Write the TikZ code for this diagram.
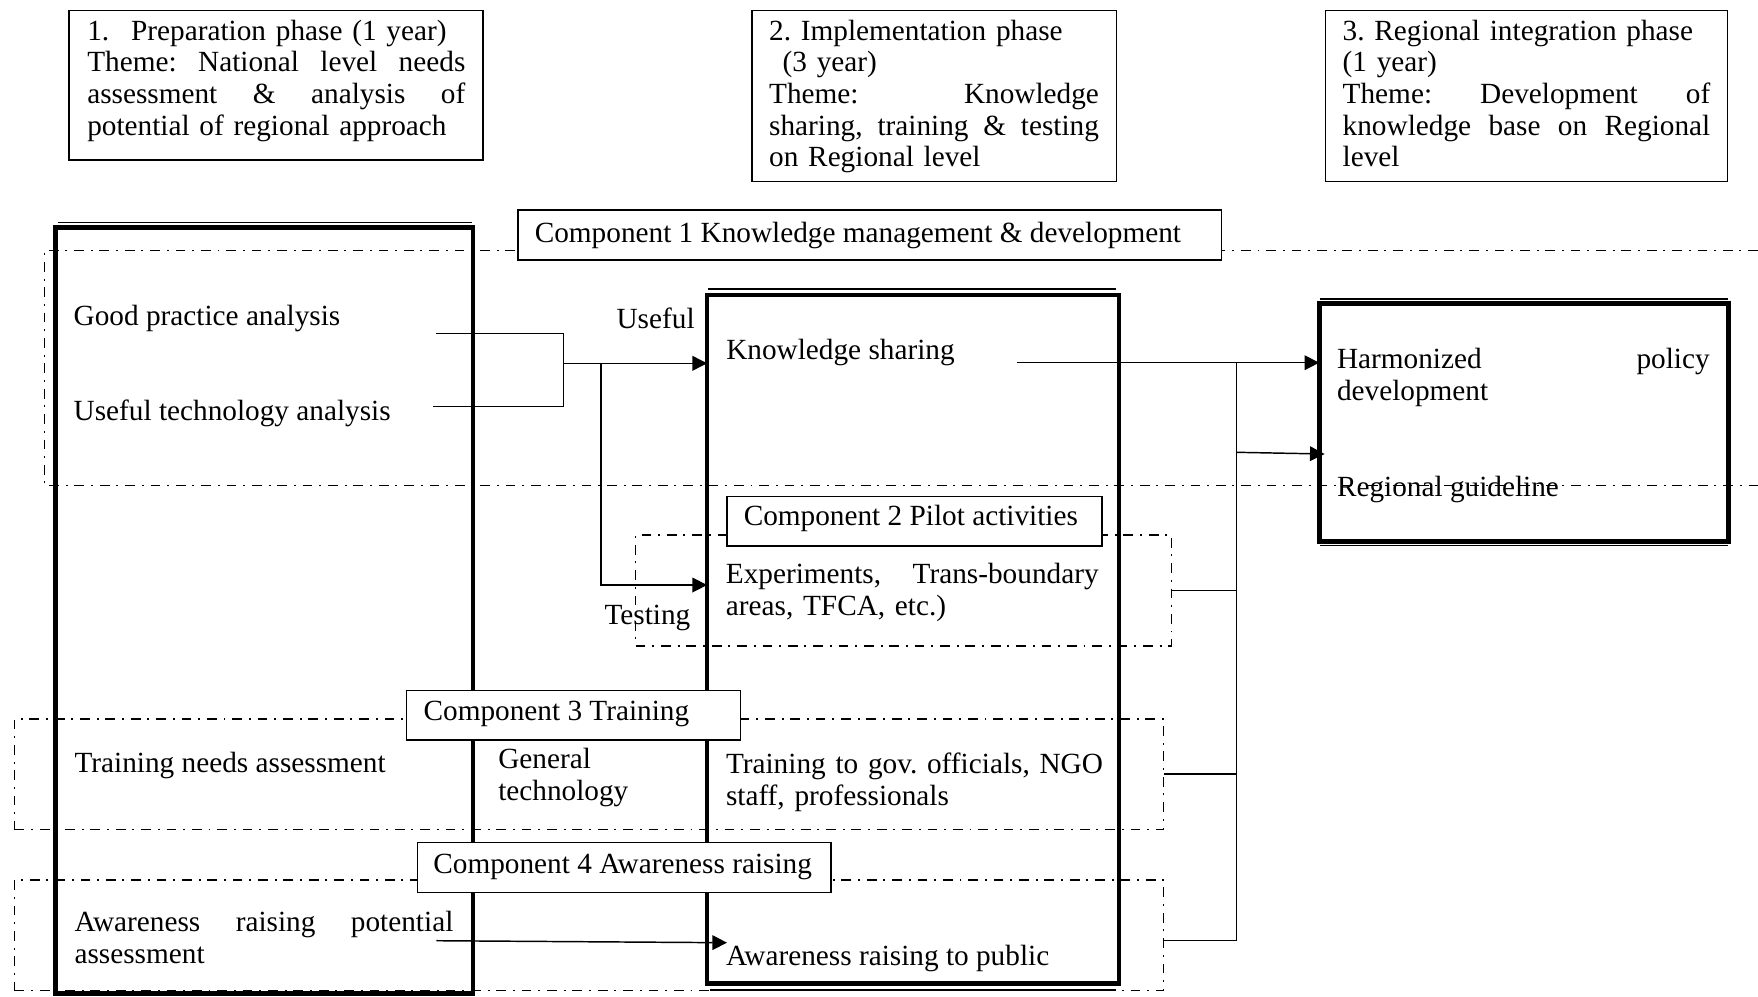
\documentclass[tikz,border=0pt]{standalone}
\usepackage{fontspec}
\setmainfont{Liberation Serif}
\usetikzlibrary{arrows.meta,fit}
\frenchspacing
\begin{document}
\begin{tikzpicture}[x=0.41pt,y=-0.41pt,
  every node/.style={font=\fontsize{12}{13}\selectfont\frenchspacing, inner sep=0pt, outer sep=0pt},
  txt/.style={anchor=base west, align=left, yshift=-0.7pt},
  thinbox/.style={draw, line width=0.6pt, fill=white},
  thickbox/.style={draw, line width=1.9pt},
  shadowline/.style={line width=0.5pt},
  region/.style={draw, line width=0.45pt, dash pattern=on 4pt off 2.8pt on 0.8pt off 2.8pt},
  link/.style={line width=0.6pt},
  arr/.style={link, -{Triangle[length=6pt,width=6pt]}},
]
\useasboundingbox[fill=white] (0,0) rectangle (1758,996);

% component regions (dash-dot)
\draw[region] (1758,250.5) -- (44.6,250.5) -- (44.6,485.8) -- (1758,485.8);
\node[region, fit={(635.7,535) (1171.4,646)}] (reg2) {};
\node[region, fit={(14.4,719) (1163.8,829.3)}] (reg3) {};
\node[region, fit={(14.4,880) (1163.8,990.7)}] (reg4) {};

% phase columns
\node[thickbox, fit={(55.2,227.7) (473.1,993.3)}] (boxA) {};
\node[thickbox, fit={(707.1,295) (1118.8,983.3)}] (boxB) {};
\node[thickbox, fit={(1319.2,303.3) (1728.5,541.7)}] (boxC) {};
\draw[shadowline] ([xshift=1pt,yshift=2pt]boxA.north west) -- ([xshift=-0.5pt,yshift=2pt]boxA.north east);
\draw[shadowline] ([xshift=0.5pt,yshift=2.5pt]boxB.north west) -- ([xshift=-1pt,yshift=2.5pt]boxB.north east);
\draw[shadowline] ([xshift=1pt,yshift=-2.7pt]boxB.south west) -- ([xshift=-1pt,yshift=-2.7pt]boxB.south east);
\draw[shadowline] ([xshift=0.3pt,yshift=1.8pt]boxC.north west) -- ([xshift=-0.3pt,yshift=1.8pt]boxC.north east);
\draw[shadowline] ([xshift=0.3pt,yshift=-1.6pt]boxC.south west) -- ([xshift=-0.3pt,yshift=-1.6pt]boxC.south east);

% connectors
\coordinate (gpS) at (436.3,333.3);
\coordinate (utS) at (432.9,406.7);
\coordinate (jTop) at (563.7,333.3);
\coordinate (jBot) at (563.7,406.7);
\coordinate (jMid) at (563.7,363.3);
\coordinate (split) at (601,363.3);
\coordinate (testY) at (601,585);
\draw[link] (gpS) -- (jTop) -- (jBot) -- (utS);
\draw[arr] (jMid) -- (jMid -| boxB.west);
\draw[arr] (split) -- (testY) -- (testY -| boxB.west);

\coordinate (ksS) at (1017.4,362.7);
\coordinate (busTop) at (1236.7,362.7);
\coordinate (busBot) at (1236.7,940.7);
\coordinate (rgS) at (1236.7,452.3);
\coordinate (rgE) at (1324.6,454);
\draw[arr] (ksS) -- (ksS -| boxC.west);
\draw[link] (busTop) -- (busBot);
\draw[arr] (rgS) -- (rgE);
\draw[link] (reg2.east) -- (reg2.east -| busTop);
\draw[link] (reg3.east) -- (reg3.east -| busTop);
\draw[link] (reg4.east |- busBot) -- (busBot);

\coordinate (arS) at (436.3,940.7);
\coordinate (arE) at (727,942.7);
\draw[arr] (arS) -- (arE);

% phase headers
\node[thinbox, fit={(68.9,10.7) (483,160)}] (ph1) {};
\node[thinbox, fit={(752.2,10.7) (1116.5,181.7)}] (ph2) {};
\node[thinbox, fit={(1325.6,10.7) (1727.7,181.7)}] (ph3) {};
\node[txt, text width=155pt] (t1) at (87.3,38.3) {1.\hspace{9pt}Preparation phase (1 year)\\Theme:\hfill National\hfill level\hfill needs\\assessment\hfill\&\hfill analysis\hfill of\\potential of regional approach};
\node[txt, text width=135.2pt] (t2) at (769.2,38.3) {2. Implementation phase\\\hspace*{5.5pt}(3 year)\\Theme:\hfill Knowledge\\sharing,\hfill training\hfill\&\hfill testing\\on Regional level};
\node[txt, text width=150.7pt] (t3) at (1342.7,38.3) {3. Regional integration phase\\(1 year)\\Theme:\hfill Development\hfill of\\knowledge\hfill base\hfill on\hfill Regional\\level};

% component labels
\node[thinbox, fit={(517.9,210) (1221.7,260)}] (c1) {};
\node[thinbox, fit={(727.2,496.7) (1102.2,546)}] (c2) {};
\node[thinbox, fit={(406.4,690.7) (740.5,740)}] (c3) {};
\node[thinbox, fit={(417.3,842.3) (831.2,892.3)}] (c4) {};
\node[txt] (c1t) at (534.8,240.7) {Component 1 Knowledge management \& development};
\node[txt] (c2t) at (743.75,524) {Component 2 Pilot activities};
\node[txt] (c3t) at (423.6,718.3) {Component 3 Training};
\node[txt] (c4t) at (433.4,871.7) {Component 4 Awareness raising};

% activity texts
\node[txt] (gp) at (73.7,323.3) {Good practice analysis};
\node[txt] (ut) at (73.7,418.3) {Useful technology analysis};
\node[txt] (tn) at (74.6,770.7) {Training needs assessment};
\node[txt, text width=155.3pt] (ap) at (74.6,930) {Awareness\hfill raising\hfill potential\\assessment};
\node[txt, text width=70pt] (gt) at (498.3,766.7) {General\\technology};
\node[txt] (useful) at (616.6,326.7) {Useful};
\node[txt] (testing) at (604.5,623) {Testing};
\node[txt] (ks) at (726.3,357.3) {Knowledge sharing};
\node[txt, text width=152.8pt] (ex) at (725.9,581.7) {Experiments,\hfill Trans-boundary\\areas, TFCA, etc.)};
\node[txt, text width=158pt] (tr) at (726,771.7) {Training to gov. officials, NGO\\staff, professionals};
\node[txt] (ar) at (726,963.3) {Awareness raising to public};
\node[txt, text width=152.8pt] (hp) at (1337,366.7) {Harmonized\hfill policy\\development};
\node[txt] (rg) at (1337,495) {Regional guideline};
\end{tikzpicture}
\end{document}
